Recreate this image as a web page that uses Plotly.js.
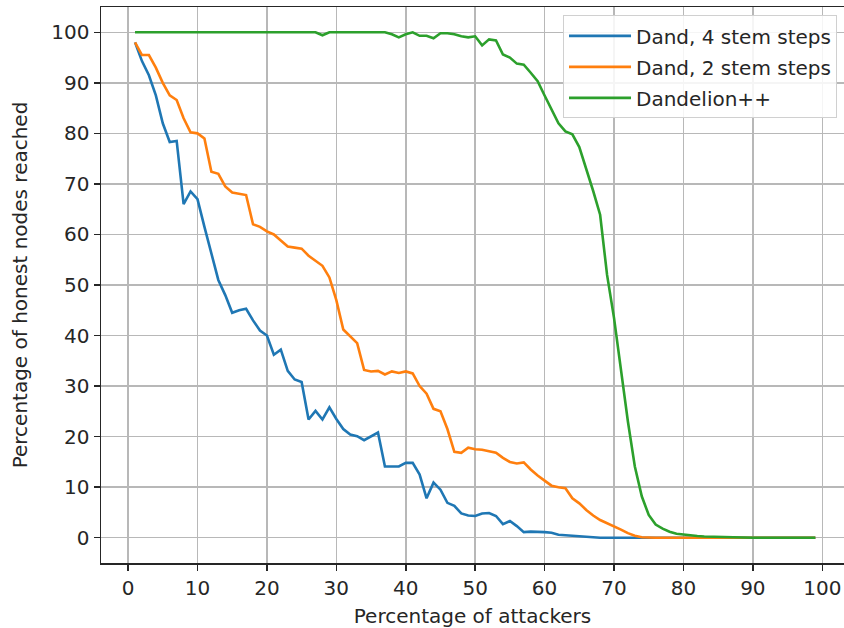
<!DOCTYPE html>
<html>
<head>
<meta charset="utf-8">
<script src="https://cdn.plot.ly/plotly-3.0.1.min.js"></script>
<style>html,body{margin:0;padding:0;background:#fff;}#chart{width:844px;height:628px;}</style>
</head>
<body>
<div id="chart"></div>
<script>
// Percentage of attackers (x = 1..99)
const attackers = Array.from({length: 99}, (_, i) => i + 1);

// Dand, 4 stem steps
const dand4 = [
  98, 94.3, 91.5, 87.5, 82, 78.3, 78.5, 66, 68.5, 67,
  61.5, 56.3, 51, 48, 44.5, 45, 45.3, 43, 41, 40,
  36.2, 37.2, 33, 31.3, 30.8, 23.4, 25.1, 23.4, 25.8, 23.5,
  21.5, 20.4, 20.1, 19.3, 20, 20.8, 14.1, 14.1, 14.1, 14.8,
  14.8, 12.5, 7.8, 10.9, 9.5, 6.9, 6.3, 4.8, 4.4, 4.3,
  4.8, 4.9, 4.3, 2.7, 3.3, 2.3, 1.1, 1.2, 1.2, 1.1,
  1.0, 0.6, 0.5, 0.4, 0.3, 0.1, 0.1, 0, 0, 0,
  0, 0, 0, 0, 0, 0, 0, 0, 0, 0,
  0, 0, 0, 0, 0, 0, 0, 0, 0, 0,
  0, 0, 0, 0, 0, 0, 0, 0, 0
];

// Dand, 2 stem steps
const dand2 = [
  98, 95.5, 95.5, 93, 90, 87.5, 86.6, 83, 80.2, 80,
  79, 72.4, 72, 69.5, 68.3, 68, 67.8, 62, 61.5, 60.6,
  60, 58.8, 57.6, 57.4, 57.2, 55.8, 54.8, 53.8, 51.5, 47,
  41.2, 39.8, 38.5, 33.2, 32.9, 33, 32.3, 32.9, 32.6, 32.9,
  32.5, 30, 28.5, 25.5, 25, 21.5, 17, 16.8, 17.8, 17.5,
  17.4, 17.1, 16.8, 15.8, 15, 14.7, 14.9, 13.5, 12.3, 11.3,
  10.3, 10, 9.8, 7.8, 6.8, 5.5, 4.4, 3.5, 2.9, 2.2,
  1.6, 0.9, 0.4, 0.1, 0, 0, 0, 0, 0, 0,
  0, 0, 0, 0, 0, 0, 0, 0, 0, 0,
  0, 0, 0, 0, 0, 0, 0, 0, 0
];

// Dandelion++
const dandpp = [
  100, 100, 100, 100, 100, 100, 100, 100, 100, 100,
  100, 100, 100, 100, 100, 100, 100, 100, 100, 100,
  100, 100, 100, 100, 100, 100, 100, 99.4, 100, 100,
  100, 100, 100, 100, 100, 100, 100, 99.6, 99, 99.6,
  100, 99.3, 99.3, 98.8, 99.8, 99.8, 99.6, 99.2, 99, 99.2,
  97.4, 98.6, 98.4, 95.6, 95, 93.8, 93.6, 92, 90.3, 87.5,
  84.8, 82, 80.4, 79.8, 77.3, 73, 68.6, 63.9, 52, 43.5,
  33.5, 23, 14.1, 8.2, 4.5, 2.6, 1.8, 1.2, 0.8, 0.6,
  0.45, 0.35, 0.25, 0.2, 0.15, 0.1, 0.05, 0.05, 0, 0,
  0, 0, 0, 0, 0, 0, 0, 0, 0
];

const seriesNames = ["Dand, 4 stem steps", "Dand, 2 stem steps", "Dandelion++"];
const seriesColors = ["#1f77b4", "#ff7f0e", "#2ca02c"];
const xTicks = [0, 10, 20, 30, 40, 50, 60, 70, 80, 90, 100];
const yTicks = [0, 10, 20, 30, 40, 50, 60, 70, 80, 90, 100];

const allY = [dand4, dand2, dandpp];
const traces = allY.map((ys, i) => ({
  x: attackers,
  y: ys,
  type: "scatter",
  mode: "lines",
  name: seriesNames[i],
  legendgroup: "g" + i,
  line: {color: seriesColors[i], width: 2.6}
}));

const axisCommon = {
  showgrid: true,
  gridcolor: "#b8b8b8",
  gridwidth: 1.5,
  showline: true,
  linecolor: "#262626",
  linewidth: 1.5,
  ticks: "outside",
  ticklen: 6,
  tickwidth: 1.5,
  tickcolor: "#262626",
  zeroline: false,
  tickfont: {family: "DejaVu Sans", size: 20, color: "#262626"},
  automargin: false
};

const layout = {
  width: 844,
  height: 628,
  margin: {l: 101, r: 0, t: 7, b: 65, pad: 0},
  paper_bgcolor: "#ffffff",
  plot_bgcolor: "#ffffff",
  font: {family: "DejaVu Sans", size: 20, color: "#262626"},
  showlegend: true,
  legend: {
    x: 0.9906, xanchor: "right",
    y: 0.985, yanchor: "top",
    bgcolor: "rgba(255,255,255,0.85)",
    bordercolor: "#d0d0d0",
    borderwidth: 1,
    font: {family: "DejaVu Sans", size: 20, color: "#262626"},
    traceorder: "grouped",
    tracegroupgap: 2,
    itemwidth: 62
  },
  xaxis: Object.assign({}, axisCommon, {
    range: [-3.9, 103.13],
    tickmode: "array",
    tickvals: xTicks,
    ticktext: xTicks.map(String),
    mirror: true,
    title: {text: "Percentage of attackers", font: {family: "DejaVu Sans", size: 20, color: "#262626"}, standoff: 12}
  }),
  yaxis: Object.assign({}, axisCommon, {
    range: [-5, 105],
    tickmode: "array",
    tickvals: yTicks,
    ticktext: yTicks.map(String),
    mirror: false,
    title: {text: "Percentage of honest nodes reached", font: {family: "DejaVu Sans", size: 20, color: "#262626"}, standoff: 18}
  })
};

Plotly.newPlot("chart", traces, layout, {displayModeBar: false, staticPlot: true});
</script>
</body>
</html>
